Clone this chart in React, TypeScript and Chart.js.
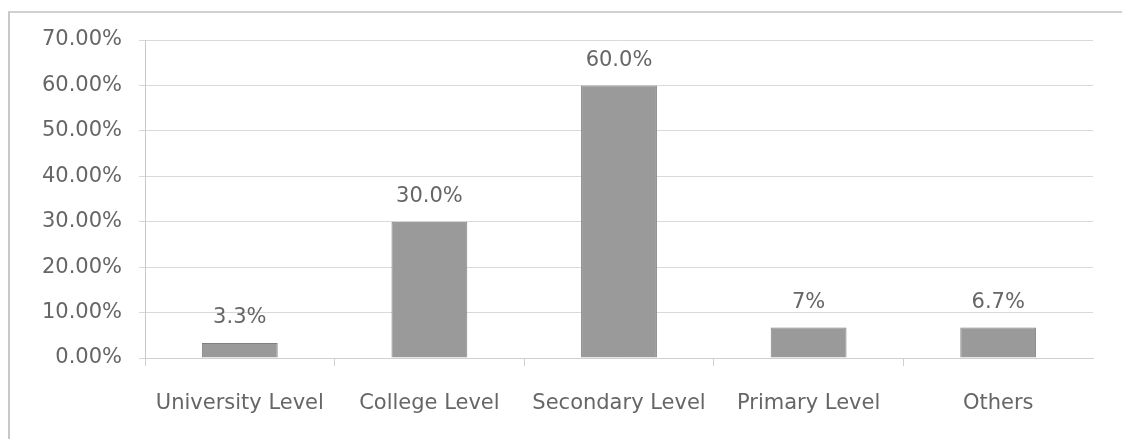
import React, { useEffect, useRef } from "react";
import { Chart, registerables } from "chart.js";

Chart.register(...registerables);

const categories = ["University Level", "College Level", "Secondary Level", "Primary Level", "Others"];
const values = [3.3, 30.0, 60.0, 6.7, 6.7];
const valueLabels = ["3.3%", "30.0%", "60.0%", "7%", "6.7%"];
const yTicks = [0, 10, 20, 30, 40, 50, 60, 70];

const FONT = "DejaVu Sans";
const TEXT = "#666666";

const dataLabelPlugin = {
  id: "dataLabels",
  afterDatasetsDraw(chart: any) {
    const ctx = chart.ctx;
    const meta = chart.getDatasetMeta(0);
    ctx.save();
    ctx.font = `21px "${FONT}"`;
    ctx.fillStyle = TEXT;
    ctx.textAlign = "center";
    ctx.textBaseline = "middle";
    meta.data.forEach((bar: any, i: number) => {
      ctx.fillText(valueLabels[i], bar.x, bar.y - 25);
    });
    ctx.restore();
  },
};

export default function App() {
  const ref = useRef<HTMLCanvasElement | null>(null);
  useEffect(() => {
    if (!ref.current) return;
    const chart = new Chart(ref.current, {
      type: "bar",
      data: {
        labels: categories,
        datasets: [
          {
            data: values,
            backgroundColor: "#9a9a9a",
            borderColor: "#808080",
            borderWidth: 1,
            categoryPercentage: 1,
            barPercentage: 0.4,
          },
        ],
      },
      options: {
        animation: false,
        responsive: false,
        maintainAspectRatio: false,
        layout: { padding: { left: 0, right: 29, top: 40, bottom: 0 } },
        plugins: { legend: { display: false }, tooltip: { enabled: false } },
        scales: {
          x: {
            grid: {
              display: true,
              drawOnChartArea: false,
              drawTicks: true,
              tickLength: 8,
              color: (c: any) => (c.type === "tick" ? "#d0d0d0" : "rgba(0,0,0,0)"),
              offset: true,
            },
            border: { display: true, color: "#d0d0d0" },
            ticks: {
              font: { family: FONT, size: 21 },
              color: TEXT,
              padding: 25,
              maxRotation: 0,
              autoSkip: false,
            },
            afterFit(scale: any) {
              scale.height = 81;
            },
          },
          y: {
            min: 0,
            max: 70,
            afterBuildTicks(scale: any) {
              scale.ticks = yTicks.map((v) => ({ value: v }));
            },
            grid: { color: "#d9d9d9", tickLength: 6, drawTicks: true },
            border: { display: true, color: "#c8c8c8" },
            ticks: {
              font: { family: FONT, size: 21 },
              color: TEXT,
              padding: 17,
              callback: (v: any) => Number(v).toFixed(2) + "%",
            },
            afterFit(scale: any) {
              scale.width = 145;
            },
          },
        },
      },
      plugins: [dataLabelPlugin],
    });
    return () => chart.destroy();
  }, []);

  return (
    <div>
      <div
        style={{
          position: "absolute",
          left: 8,
          top: 11,
          width: 1114,
          height: 428,
          borderTop: "2px solid #d0d0d0",
          borderLeft: "2px solid #c8c8c8",
          boxSizing: "border-box",
        }}
      />
      <canvas
        ref={ref}
        width={1122}
        height={439}
        style={{ position: "absolute", left: 0, top: 0, width: 1122, height: 439 }}
      />
    </div>
  );
}
